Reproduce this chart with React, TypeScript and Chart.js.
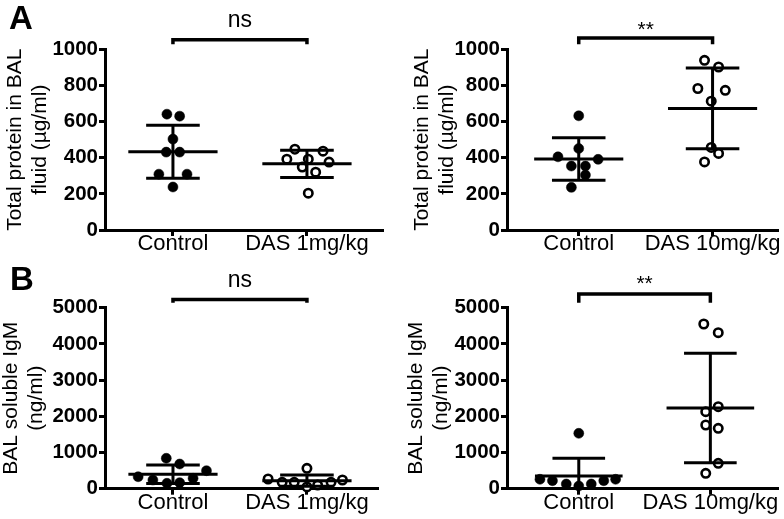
import React, { useEffect, useRef } from "react";
import { Chart, registerables } from "chart.js";

Chart.register(...registerables);

const FONT = "'Liberation Sans', Arial, Helvetica, sans-serif";

// ---------- Panel A, left: total protein, DAS 1 mg/kg ----------
const aLeftCategories = ["Control", "DAS 1mg/kg"];
const aLeftControl = [641, 630, 503, 431, 431, 309, 309, 238];
const aLeftControlJitter = [-0.045, 0.05, 0, -0.05, 0.05, -0.105, 0.105, 0];
const aLeftDas = [447, 392, 392, 436, 376, 348, 320, 204];
const aLeftDasJitter = [-0.09, -0.15, 0.01, 0.12, 0.165, -0.035, 0.065, 0.01];
const aLeftMeans = [433, 366];
const aLeftSds = [147, 75];

// ---------- Panel A, right: total protein, DAS 10 mg/kg ----------
const aRightCategories = ["Control", "DAS 10mg/kg"];
const aRightControl = [632, 451, 405, 391, 354, 354, 304, 236];
const aRightControlJitter = [0, 0, -0.155, 0.145, -0.055, 0.05, 0.05, -0.055];
const aRightDas = [939, 902, 783, 773, 713, 457, 424, 377];
const aRightDasJitter = [-0.06, 0.045, -0.11, 0.095, -0.01, -0.01, 0.045, -0.06];
const aRightMeans = [393, 673];
const aRightSds = [117, 224];

// ---------- Panel B, left: soluble IgM, DAS 1 mg/kg ----------
const bLeftCategories = ["Control", "DAS 1mg/kg"];
const bLeftControl = [331, 240, 840, 682, 149, 166, 287, 497];
const bLeftControlJitter = [-0.26, -0.15, -0.05, 0.05, -0.045, 0.05, 0.15, 0.25];
const bLeftDas = [268, 177, 177, 563, 50, 100, 177, 240];
const bLeftDasJitter = [-0.29, -0.185, -0.095, 0, 0, 0.08, 0.18, 0.265];
const bLeftMeans = [398, 221];
const bLeftSds = [255, 155];

// ---------- Panel B, right: soluble IgM, DAS 10 mg/kg ----------
const bRightCategories = ["Control", "DAS 10mg/kg"];
const bRightControl = [1530, 260, 221, 130, 75, 130, 221, 260];
const bRightControlJitter = [0, -0.295, -0.2, -0.095, 0, 0.095, 0.19, 0.28];
const bRightDas = [4550, 4309, 2265, 2127, 1760, 1669, 702, 425];
const bRightDasJitter = [-0.05, 0.06, 0.06, -0.035, -0.035, 0.06, 0.06, -0.035];
const bRightMeans = [351, 2229];
const bRightSds = [489, 1511];

const proteinTitle = ["Total protein in BAL", "fluid (\u00b5g/ml)"];
const igmTitle = ["BAL soluble IgM", "(ng/ml)"];

const decorPlugin = {
  id: "decor",
  afterDatasetsDraw(chart: any, _args: any, opts: any) {
    const { ctx, chartArea } = chart;
    const xs = chart.scales.x;
    const ys = chart.scales.y;
    ctx.save();
    ctx.beginPath();
    ctx.rect(chartArea.left, chartArea.top - 3, chartArea.right - chartArea.left, chartArea.bottom - chartArea.top + 3);
    ctx.clip();
    ctx.strokeStyle = "#000";
    ctx.lineWidth = 3;
    ctx.lineCap = "butt";
    const seg = (x1: number, y1: number, x2: number, y2: number) => {
      ctx.beginPath();
      ctx.moveTo(x1, y1);
      ctx.lineTo(x2, y2);
      ctx.stroke();
    };
    opts.means.forEach((m: number, i: number) => {
      const g = i + 1;
      const sd = opts.sds[i];
      const xc = xs.getPixelForValue(g);
      const ym = ys.getPixelForValue(m);
      const yt = ys.getPixelForValue(m + sd);
      const yb = ys.getPixelForValue(m - sd);
      seg(xs.getPixelForValue(g - opts.meanHalf), ym, xs.getPixelForValue(g + opts.meanHalf), ym);
      seg(xc, yt, xc, yb);
      seg(xs.getPixelForValue(g - opts.capHalf), yt, xs.getPixelForValue(g + opts.capHalf), yt);
      seg(xs.getPixelForValue(g - opts.capHalf), yb, xs.getPixelForValue(g + opts.capHalf), yb);
    });
    ctx.restore();
  },
  afterDraw(chart: any, _args: any, opts: any) {
    const { ctx, chartArea } = chart;
    const xs = chart.scales.x;
    const x1 = xs.getPixelForValue(1);
    const x2 = xs.getPixelForValue(2);
    ctx.save();
    ctx.strokeStyle = "#000";
    ctx.lineWidth = 3.5;
    ctx.lineJoin = "miter";
    ctx.lineCap = "butt";
    const legBottom = chartArea.top - 5;
    ctx.beginPath();
    ctx.moveTo(x1, legBottom);
    ctx.lineTo(x1, opts.bracketY);
    ctx.lineTo(x2, opts.bracketY);
    ctx.lineTo(x2, legBottom);
    ctx.stroke();
    ctx.fillStyle = "#000";
    ctx.textAlign = "center";
    ctx.textBaseline = "alphabetic";
    ctx.font = `${opts.sigSize}px ${FONT}`;
    ctx.fillText(opts.sig, (x1 + x2) / 2, opts.sigBaseline);
    if (opts.letter) {
      ctx.textAlign = "left";
      ctx.font = `bold 33px ${FONT}`;
      ctx.fillText(opts.letter, opts.letterX, opts.letterBaseline);
    }
    ctx.restore();
  },
};

type PanelCfg = {
  left: number;
  top: number;
  w: number;
  h: number;
  area: { left: number; right: number; top: number; bottom: number };
  xMin: number;
  xMax: number;
  yMax: number;
  step: number;
  categories: string[];
  control: number[];
  controlJitter: number[];
  das: number[];
  dasJitter: number[];
  means: number[];
  sds: number[];
  title: string[];
  titleCenter: number;
  bracketY: number;
  sig: string;
  sigSize: number;
  sigBaseline: number;
  letter?: string;
  letterX?: number;
  letterBaseline?: number;
};

const panels: PanelCfg[] = [
  {
    left: 0, top: 0, w: 392, h: 260,
    area: { left: 105, right: 382, top: 49.3, bottom: 230 },
    xMin: 0.493, xMax: 2.56, yMax: 1000, step: 200,
    categories: aLeftCategories,
    control: aLeftControl, controlJitter: aLeftControlJitter,
    das: aLeftDas, dasJitter: aLeftDasJitter,
    means: aLeftMeans, sds: aLeftSds,
    title: proteinTitle, titleCenter: 15,
    bracketY: 39.7, sig: "ns", sigSize: 23, sigBaseline: 27,
    letter: "A", letterX: 9, letterBaseline: 28.5,
  },
  {
    left: 392, top: 0, w: 392, h: 260,
    area: { left: 115, right: 391, top: 49.3, bottom: 230 },
    xMin: 0.464, xMax: 2.483, yMax: 1000, step: 200,
    categories: aRightCategories,
    control: aRightControl, controlJitter: aRightControlJitter,
    das: aRightDas, dasJitter: aRightDasJitter,
    means: aRightMeans, sds: aRightSds,
    title: proteinTitle, titleCenter: 30,
    bracketY: 38, sig: "**", sigSize: 21, sigBaseline: 36,
  },
  {
    left: 0, top: 260, w: 392, h: 259,
    area: { left: 105, right: 377, top: 47.7, bottom: 228.7 },
    xMin: 0.4925, xMax: 2.523, yMax: 5000, step: 1000,
    categories: bLeftCategories,
    control: bLeftControl, controlJitter: bLeftControlJitter,
    das: bLeftDas, dasJitter: bLeftDasJitter,
    means: bLeftMeans, sds: bLeftSds,
    title: igmTitle, titleCenter: 11,
    bracketY: 39.5, sig: "ns", sigSize: 23, sigBaseline: 27,
    letter: "B", letterX: 10, letterBaseline: 30,
  },
  {
    left: 392, top: 260, w: 392, h: 259,
    area: { left: 115, right: 391, top: 47.7, bottom: 228.7 },
    xMin: 0.4545, xMax: 2.508, yMax: 5000, step: 1000,
    categories: bRightCategories,
    control: bRightControl, controlJitter: bRightControlJitter,
    das: bRightDas, dasJitter: bRightDasJitter,
    means: bRightMeans, sds: bRightSds,
    title: igmTitle, titleCenter: 24,
    bracketY: 34, sig: "**", sigSize: 21, sigBaseline: 30,
  },
];

function Panel({ cfg }: { cfg: PanelCfg }) {
  const ref = useRef<HTMLCanvasElement>(null);
  useEffect(() => {
    if (!ref.current) return;
    const titleSize = 21;
    const titleLH = 1.2;
    const chart = new Chart(ref.current, {
      type: "scatter",
      data: {
        datasets: [
          {
            label: cfg.categories[0],
            data: cfg.control.map((v, i) => ({ x: 1 + cfg.controlJitter[i], y: v })),
            pointRadius: 5,
            pointBorderWidth: 0.5,
            backgroundColor: "#000",
            borderColor: "#000",
            pointHoverRadius: 5,
            clip: false as any,
          },
          {
            label: cfg.categories[1],
            data: cfg.das.map((v, i) => ({ x: 2 + cfg.dasJitter[i], y: v })),
            pointRadius: 4.2,
            pointBorderWidth: 2.6,
            backgroundColor: "#fff",
            borderColor: "#000",
            pointHoverRadius: 4.2,
            clip: false as any,
          },
        ],
      },
      options: {
        responsive: false,
        animation: false,
        devicePixelRatio: 1,
        events: [],
        layout: {
          padding: { left: 0, top: cfg.area.top, right: cfg.w - cfg.area.right, bottom: 0 },
        },
        plugins: {
          legend: { display: false },
          tooltip: { enabled: false },
          decor: {
            means: cfg.means,
            sds: cfg.sds,
            meanHalf: 0.333,
            capHalf: 0.2,
            bracketY: cfg.bracketY,
            sig: cfg.sig,
            sigSize: cfg.sigSize,
            sigBaseline: cfg.sigBaseline,
            letter: cfg.letter,
            letterX: cfg.letterX,
            letterBaseline: cfg.letterBaseline,
          },
        } as any,
        scales: {
          x: {
            type: "linear",
            min: cfg.xMin,
            max: cfg.xMax,
            afterBuildTicks: (s: any) => {
              s.ticks = [{ value: 1 }, { value: 2 }];
            },
            afterFit: (s: any) => {
              s.height = cfg.h - cfg.area.bottom;
              s.paddingLeft = 0;
              s.paddingRight = 0;
            },
            ticks: {
              callback: (v: any) => cfg.categories[Number(v) - 1] ?? "",
              font: { size: 22, family: FONT },
              color: "#000",
              padding: -5,
              maxRotation: 0,
              minRotation: 0,
              autoSkip: false,
            },
            grid: {
              drawOnChartArea: false,
              drawTicks: true,
              tickLength: 6,
              color: "#000",
              lineWidth: 3,
            },
            border: { display: true, color: "#000", width: 3 },
          },
          y: {
            type: "linear",
            min: 0,
            max: cfg.yMax,
            afterFit: (s: any) => {
              s.width = cfg.area.left;
              s.paddingTop = 0;
              s.paddingBottom = 0;
            },
            ticks: {
              stepSize: cfg.step,
              callback: (v: any) => String(v),
              font: { size: 20.5, weight: "bold", family: FONT },
              color: "#000",
              padding: 1,
            },
            grid: {
              drawOnChartArea: false,
              drawTicks: true,
              tickLength: 6,
              color: "#000",
              lineWidth: 3,
            },
            border: { display: true, color: "#000", width: 3 },
            title: {
              display: true,
              text: cfg.title,
              color: "#000",
              font: { size: titleSize, family: FONT, lineHeight: titleLH },
              padding: { top: cfg.titleCenter - (titleSize * titleLH) / 2, bottom: 0 },
            },
          },
        },
      } as any,
      plugins: [decorPlugin as any],
    });
    return () => chart.destroy();
  }, [cfg]);
  return (
    <canvas
      ref={ref}
      width={cfg.w}
      height={cfg.h}
      style={{ position: "absolute", left: cfg.left, top: cfg.top, width: cfg.w, height: cfg.h }}
    />
  );
}

export default function App() {
  return (
    <div style={{ position: "fixed", left: 0, top: 0, width: 784, height: 519, background: "#fff", overflow: "hidden" }}>
      {panels.map((p, i) => (
        <Panel key={i} cfg={p} />
      ))}
    </div>
  );
}
